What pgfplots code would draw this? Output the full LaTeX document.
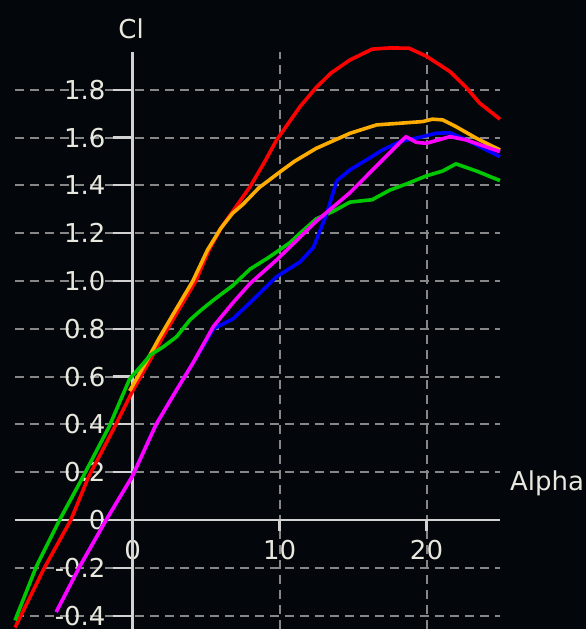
\documentclass[border=0pt]{standalone}
\usepackage{fontspec}
\setmainfont{DejaVu Sans}
\usepackage{pgfplots}
\pgfplotsset{compat=1.18}
\definecolor{bg}{RGB}{3,6,10}
\definecolor{fg}{RGB}{232,232,222}
\definecolor{gridc}{RGB}{135,135,135}
\definecolor{axc}{RGB}{210,210,210}
\definecolor{cred}{RGB}{255,0,0}
\definecolor{corange}{RGB}{255,172,0}
\definecolor{cgreen}{RGB}{0,200,0}
\definecolor{cblue}{RGB}{0,0,255}
\definecolor{cmag}{RGB}{255,0,255}
\pgfplotsset{
  base/.style={
    at={(7.5pt,0pt)}, anchor=south west,
    scale only axis, width=242.5pt, height=288.5pt,
    xmin=-8, xmax=25, ymin=-0.456, ymax=1.958,
    axis lines=middle,
    clip=false,
    hide obscured x ticks=false, hide obscured y ticks=false,
    xtick={0,10,20},
    ytick={-0.4,-0.2,0,0.2,0.4,0.6,0.8,1.0,1.2,1.4,1.6,1.8},
    tick align=outside,
    ticklabel style={text=fg, font=\fontsize{13}{15}\selectfont},
    xticklabel style={anchor=north, yshift=-1pt},
    yticklabel style={anchor=east},
  }
}
\begin{document}
\begin{tikzpicture}
\fill[bg] (0,0) rectangle (293pt,314.5pt);
\useasboundingbox (0,0) rectangle (293pt,314.5pt);
% grid only
\begin{axis}[base,
  axis line style={draw=none},
  xticklabels={}, yticklabels={},
  tick style={draw=none},
  grid=major,
  major grid style={gridc, line width=1pt, dash pattern=on 4.5pt off 3pt},
]
\end{axis}
% x ticks and labels
\begin{axis}[base,
  axis line style={draw=none},
  ytick=\empty,
  xticklabels={0,10,20},
  major tick length=5.5pt,
  tick style={axc, line width=1.1pt},
]
\end{axis}
% y ticks, axis lines, plots
\begin{axis}[base,
  axis line style={axc, line width=1.1pt, -},
  xtick=\empty,
  yticklabels={-0.4,-0.2,0,0.2,0.4,0.6,0.8,1.0,1.2,1.4,1.6,1.8},
  major tick length=10pt,
  tick style={axc, line width=1.1pt},
  every axis plot/.append style={line width=1.8pt, line join=round},
]
\addplot[cred] coordinates {
(-8,-0.45) (-6,-0.20) (-4.2,0) (-3,0.18) (-1.3,0.38) (0,0.54) (1.2,0.67) (2.0,0.76)
(3,0.865) (4.3,1.0) (5.2,1.13) (6,1.22) (6.8,1.29) (8,1.395) (9,1.5) (9.8,1.59)
(11.4,1.73) (12.5,1.81) (13.5,1.87) (14.8,1.925) (16.3,1.97) (17.5,1.975) (18.8,1.974)
(20,1.94) (21.6,1.876) (22.7,1.81) (23.6,1.745) (25,1.677)};
\addplot[corange] coordinates {
(-0.2,0.54) (1.0,0.67) (1.8,0.76) (2.8,0.865) (4.1,1.0) (5.1,1.13) (6,1.22)
(6.8,1.283) (7.5,1.32) (8.6,1.39) (10,1.455) (11,1.50) (12.5,1.555) (14.8,1.618)
(16.6,1.653) (18.2,1.66) (19.75,1.667) (20.4,1.677) (21.1,1.674) (22,1.646)
(23.4,1.597) (25,1.548)};
\addplot[cgreen] coordinates {
(-8,-0.42) (-6.55,-0.195) (-4.97,0) (-3.38,0.18) (-1.6,0.39) (-0.2,0.59) (0.8,0.66)
(1.2,0.69) (2.1,0.725) (3,0.767) (3.9,0.837) (4.6,0.875) (5.5,0.92) (6.8,0.98)
(8,1.05) (9.3,1.10) (10.7,1.16) (11.4,1.2) (12.5,1.26) (13.6,1.29) (14.8,1.33)
(16.3,1.34) (17.5,1.38) (18.8,1.41) (20,1.44) (21.1,1.46) (22,1.49) (23.4,1.46) (25,1.42)};
\addplot[cblue] coordinates {
(-5.2,-0.385) (-3.6,-0.195) (-1.8,0) (0,0.185) (1.6,0.40) (3,0.545) (4.1,0.656)
(5.5,0.80) (6.8,0.84) (8,0.91) (9.8,1.018) (11.4,1.08) (12.0,1.12) (12.3,1.14)
(13.2,1.28) (13.9,1.42) (14.8,1.465) (15.9,1.506) (17,1.548) (18.2,1.583)
(19.75,1.604) (20.65,1.618) (21.6,1.62) (22.7,1.59) (25,1.52)};
\addplot[cmag] coordinates {
(-5.2,-0.385) (-3.6,-0.195) (-1.8,0) (0,0.185) (1.6,0.40) (3,0.545) (4.1,0.656)
(5.5,0.81) (6.8,0.907) (8,0.99) (9.8,1.088) (11.2,1.172) (12.5,1.25) (14.8,1.37)
(17,1.506) (18.6,1.604) (19.3,1.58) (20,1.576) (20.8,1.59) (21.6,1.604) (22.7,1.59) (25,1.541)};
\node[text=fg, font=\fontsize{13}{15}\selectfont] at (axis cs:-0.1,2.054) {Cl};
\node[text=fg, font=\fontsize{13}{15}\selectfont] at (axis cs:28.2,0.155) {Alpha};
\end{axis}
\end{tikzpicture}
\end{document}
